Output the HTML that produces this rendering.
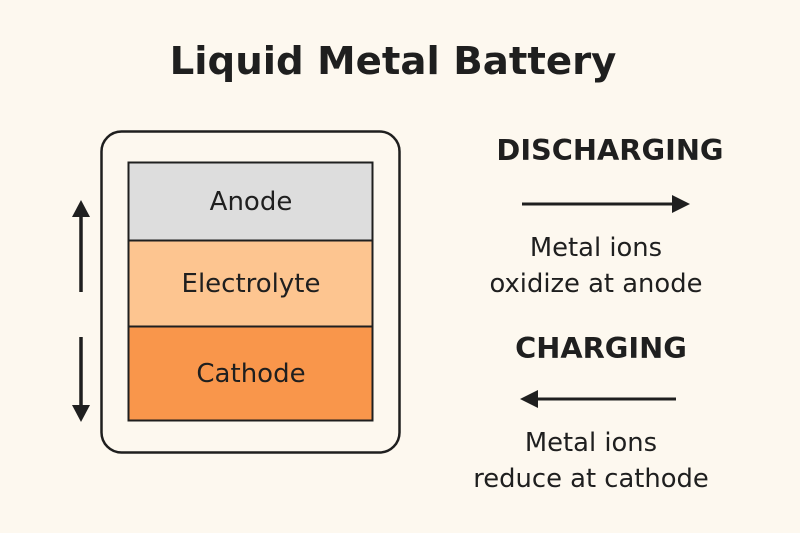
<!DOCTYPE html>
<html><head><style>
html,body{margin:0;padding:0;}
body{width:800px;height:533px;background:#fdf8ef;position:relative;overflow:hidden;font-family:"DejaVu Sans","Liberation Sans",sans-serif;color:#1f1f1f;}
.t{position:absolute;white-space:nowrap;text-align:center;}
</style></head><body>
<svg width="800" height="533" style="position:absolute;left:0;top:0">
<rect x="101.5" y="131.5" width="298" height="321" rx="20" fill="#fdf8ef" stroke="#1f1f1f" stroke-width="2.5"/>
<rect x="128.5" y="162.5" width="244" height="78" fill="#dddddd" stroke="#1f1f1f" stroke-width="2"/>
<rect x="128.5" y="240.5" width="244" height="86" fill="#fdc590" stroke="#1f1f1f" stroke-width="2"/>
<rect x="128.5" y="326.5" width="244" height="94" fill="#f9964b" stroke="#1f1f1f" stroke-width="2"/>
<line x1="81" y1="292" x2="81" y2="210" stroke="#1f1f1f" stroke-width="3.5"/>
<polygon points="72,217 81,200 90,217" fill="#1f1f1f"/>
<line x1="81" y1="337" x2="81" y2="412" stroke="#1f1f1f" stroke-width="3.5"/>
<polygon points="72,405 81,422 90,405" fill="#1f1f1f"/>
<line x1="522" y1="204" x2="676" y2="204" stroke="#1f1f1f" stroke-width="3"/>
<polygon points="672,195 690,204 672,213" fill="#1f1f1f"/>
<line x1="534" y1="399" x2="676" y2="399" stroke="#1f1f1f" stroke-width="3"/>
<polygon points="538,390 520,399 538,408" fill="#1f1f1f"/>
</svg>
<div class="t" style="left:0;width:786px;top:37px;font-size:38.7px;font-weight:bold;line-height:50px;">Liquid Metal Battery</div>
<div class="t" style="left:128px;width:246px;top:187px;font-size:26px;line-height:30px;">Anode</div>
<div class="t" style="left:128px;width:246px;top:269px;font-size:26px;line-height:30px;">Electrolyte</div>
<div class="t" style="left:128px;width:246px;top:359px;font-size:26px;line-height:30px;">Cathode</div>
<div class="t" style="left:470px;width:280px;top:133px;font-size:28.8px;font-weight:bold;line-height:34px;">DISCHARGING</div>
<div class="t" style="left:456px;width:280px;top:230px;font-size:25.8px;line-height:36px;">Metal ions<br>oxidize at anode</div>
<div class="t" style="left:461px;width:280px;top:331px;font-size:28.8px;font-weight:bold;line-height:34px;">CHARGING</div>
<div class="t" style="left:451px;width:280px;top:425px;font-size:25.8px;line-height:36px;">Metal ions<br>reduce at cathode</div>
</body></html>
